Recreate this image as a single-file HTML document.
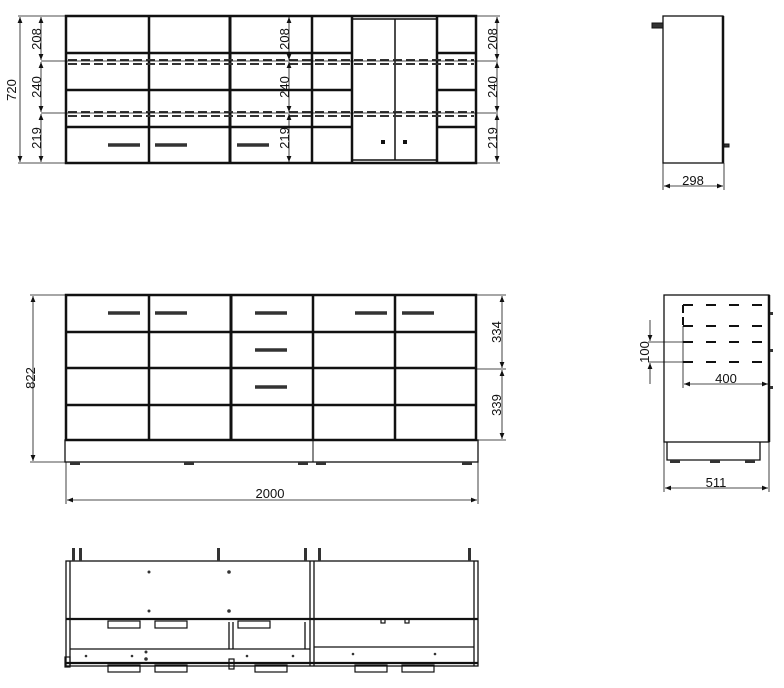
<!DOCTYPE html>
<html><head><meta charset="utf-8"><style>
html,body{margin:0;padding:0;background:#fff;width:784px;height:688px;overflow:hidden}
svg{display:block}
text{font-family:"Liberation Sans","DejaVu Sans",sans-serif;font-size:13px;fill:#111}
</style></head><body>
<svg width="784" height="688" viewBox="0 0 784 688" xmlns="http://www.w3.org/2000/svg">
<defs>
<marker id="a" viewBox="0 0 10 10" refX="10" refY="5" markerUnits="userSpaceOnUse" markerWidth="10" markerHeight="6" orient="auto-start-reverse"><path d="M0,1 L10,5 L0,9 z" fill="#111"/></marker>
</defs>
<g stroke="#111" fill="none">
<!-- TOP ELEVATION -->
<rect x="66" y="16" width="410" height="147" stroke-width="2.5"/>
<g stroke-width="2.5">
<line x1="66" y1="53" x2="352" y2="53"/><line x1="66" y1="90" x2="352" y2="90"/><line x1="66" y1="127" x2="352" y2="127"/>
<line x1="437" y1="53" x2="476" y2="53"/><line x1="437" y1="90" x2="476" y2="90"/><line x1="437" y1="127" x2="476" y2="127"/>
<line x1="149" y1="16" x2="149" y2="163"/><line x1="230" y1="16" x2="230" y2="163" stroke-width="3"/>
<line x1="312" y1="16" x2="312" y2="163"/><line x1="352" y1="16" x2="352" y2="163"/><line x1="437" y1="16" x2="437" y2="163"/>
</g>
<line x1="395" y1="19" x2="395" y2="160" stroke-width="1.5"/>
<line x1="352" y1="19" x2="437" y2="19" stroke-width="1.5"/><line x1="352" y1="160" x2="437" y2="160" stroke-width="1.5"/>
<g stroke-width="2" stroke-dasharray="9,4" stroke="#333">
<line x1="68" y1="60" x2="474" y2="60"/><line x1="68" y1="64" x2="474" y2="64"/>
<line x1="68" y1="112" x2="474" y2="112"/><line x1="68" y1="116" x2="474" y2="116"/>
</g>
<g stroke-width="0.8"><line x1="41" y1="61" x2="498" y2="61"/><line x1="41" y1="113" x2="498" y2="113"/></g>
<g stroke-width="3.5" stroke="#333"><line x1="108" y1="145" x2="140" y2="145"/><line x1="155" y1="145" x2="187" y2="145"/><line x1="237" y1="145" x2="269" y2="145"/></g>
<g fill="#111" stroke="none"><rect x="381" y="140" width="4" height="4"/><rect x="403" y="140" width="4" height="4"/></g>
<g stroke-width="0.8">
<line x1="18" y1="16" x2="66" y2="16"/><line x1="18" y1="163" x2="66" y2="163"/>
<line x1="20" y1="17" x2="20" y2="162" marker-start="url(#a)" marker-end="url(#a)"/>
<line x1="41" y1="17" x2="41" y2="60" marker-start="url(#a)" marker-end="url(#a)"/>
<line x1="41" y1="62" x2="41" y2="112" marker-start="url(#a)" marker-end="url(#a)"/>
<line x1="41" y1="114" x2="41" y2="162" marker-start="url(#a)" marker-end="url(#a)"/>
<line x1="289" y1="17" x2="289" y2="60" marker-start="url(#a)" marker-end="url(#a)"/>
<line x1="289" y1="62" x2="289" y2="112" marker-start="url(#a)" marker-end="url(#a)"/>
<line x1="289" y1="114" x2="289" y2="162" marker-start="url(#a)" marker-end="url(#a)"/>
<line x1="476" y1="16" x2="500" y2="16"/><line x1="476" y1="163" x2="500" y2="163"/>
<line x1="497" y1="17" x2="497" y2="60" marker-start="url(#a)" marker-end="url(#a)"/>
<line x1="497" y1="62" x2="497" y2="112" marker-start="url(#a)" marker-end="url(#a)"/>
<line x1="497" y1="114" x2="497" y2="162" marker-start="url(#a)" marker-end="url(#a)"/>
</g>
<rect x="663" y="16" width="60" height="147" stroke-width="1.3"/>
<line x1="723" y1="16" x2="723" y2="163" stroke-width="2.5"/>
<rect x="652" y="23" width="11" height="5" fill="#333" stroke-width="1"/>
<rect x="724" y="144" width="5" height="3" fill="#333" stroke-width="1"/>
<g stroke-width="0.8"><line x1="663" y1="163" x2="663" y2="190"/><line x1="724" y1="163" x2="724" y2="190"/>
<line x1="664" y1="186" x2="723" y2="186" marker-start="url(#a)" marker-end="url(#a)"/></g>

<!-- FRONT ELEVATION -->
<rect x="66" y="295" width="410" height="145" stroke-width="2.5"/>
<g stroke-width="2.5">
<line x1="66" y1="332" x2="476" y2="332"/><line x1="66" y1="368" x2="476" y2="368"/><line x1="66" y1="405" x2="476" y2="405"/>
<line x1="149" y1="295" x2="149" y2="440"/><line x1="231" y1="295" x2="231" y2="440" stroke-width="3"/>
<line x1="313" y1="295" x2="313" y2="440"/><line x1="395" y1="295" x2="395" y2="440"/>
</g>
<rect x="65" y="440" width="413" height="22" stroke-width="1.3"/>
<line x1="313" y1="440" x2="313" y2="462" stroke-width="1"/>
<g fill="#333" stroke="none"><rect x="70" y="462" width="10" height="3"/><rect x="184" y="462" width="10" height="3"/><rect x="298" y="462" width="10" height="3"/><rect x="316" y="462" width="10" height="3"/><rect x="462" y="462" width="10" height="3"/></g>
<g stroke-width="3.5" stroke="#333">
<line x1="108" y1="313" x2="140" y2="313"/><line x1="155" y1="313" x2="187" y2="313"/><line x1="255" y1="313" x2="287" y2="313"/>
<line x1="355" y1="313" x2="387" y2="313"/><line x1="402" y1="313" x2="434" y2="313"/>
<line x1="255" y1="350" x2="287" y2="350"/><line x1="255" y1="387" x2="287" y2="387"/></g>
<g stroke-width="0.8">
<line x1="30" y1="295" x2="66" y2="295"/><line x1="30" y1="462" x2="66" y2="462"/>
<line x1="33" y1="296" x2="33" y2="461" marker-start="url(#a)" marker-end="url(#a)"/>
<line x1="476" y1="295" x2="506" y2="295"/><line x1="476" y1="369" x2="506" y2="369"/><line x1="476" y1="440" x2="506" y2="440"/>
<line x1="502" y1="296" x2="502" y2="368" marker-start="url(#a)" marker-end="url(#a)"/>
<line x1="502" y1="370" x2="502" y2="439" marker-start="url(#a)" marker-end="url(#a)"/>
<line x1="66" y1="462" x2="66" y2="504"/><line x1="478" y1="462" x2="478" y2="504"/>
<line x1="67" y1="500" x2="477" y2="500" marker-start="url(#a)" marker-end="url(#a)"/>
</g>
<rect x="664" y="295" width="105" height="147" stroke-width="1.3"/>
<line x1="769" y1="295" x2="769" y2="442" stroke-width="2.5"/>
<path d="M667,442 V460 H760 V442" stroke-width="1.3"/>
<g stroke-width="2" stroke-dasharray="10,13">
<line x1="683" y1="305" x2="769" y2="305"/><line x1="683" y1="326" x2="769" y2="326"/>
<line x1="683" y1="342" x2="769" y2="342"/><line x1="683" y1="362" x2="769" y2="362"/>
</g>
<line x1="683" y1="305" x2="683" y2="326" stroke-width="2" stroke-dasharray="8,4"/>
<g stroke-width="0.8">
<line x1="648" y1="342" x2="683" y2="342"/><line x1="648" y1="362" x2="683" y2="362"/>
<line x1="650" y1="320" x2="650" y2="341" marker-end="url(#a)"/><line x1="650" y1="384" x2="650" y2="363" marker-end="url(#a)"/>
<line x1="683" y1="326" x2="683" y2="388"/>
<line x1="684" y1="384" x2="768" y2="384" marker-start="url(#a)" marker-end="url(#a)"/>
<line x1="664" y1="442" x2="664" y2="492"/><line x1="769" y1="442" x2="769" y2="492"/>
<line x1="665" y1="488" x2="768" y2="488" marker-start="url(#a)" marker-end="url(#a)"/>
</g>
<g fill="#333" stroke="none"><rect x="770" y="312" width="3" height="3"/><rect x="770" y="349" width="3" height="3"/><rect x="770" y="386" width="3" height="3"/>
<rect x="670" y="460" width="10" height="3"/><rect x="710" y="460" width="10" height="3"/><rect x="745" y="460" width="10" height="3"/></g>

<!-- BOTTOM PLAN -->
<g stroke-width="1.3">
<rect x="66" y="561" width="412" height="105"/>
<line x1="70" y1="561" x2="70" y2="666"/><line x1="474" y1="561" x2="474" y2="666"/>
<line x1="310" y1="561" x2="310" y2="666"/><line x1="314" y1="561" x2="314" y2="666"/>
<line x1="66" y1="619" x2="478" y2="619" stroke-width="2.2"/>
<line x1="66" y1="663" x2="478" y2="663" stroke-width="2.2"/>
<line x1="70" y1="649" x2="310" y2="649"/><line x1="314" y1="647" x2="474" y2="647"/>
<line x1="229" y1="622" x2="229" y2="649"/><line x1="233" y1="622" x2="233" y2="649"/>
<line x1="305" y1="622" x2="305" y2="649"/>
</g>
<g stroke-width="1.2">
<rect x="108" y="621" width="32" height="7"/><rect x="155" y="621" width="32" height="7"/><rect x="238" y="621" width="32" height="7"/>
<rect x="108" y="665" width="32" height="7"/><rect x="155" y="665" width="32" height="7"/><rect x="255" y="665" width="32" height="7"/>
<rect x="355" y="665" width="32" height="7"/><rect x="402" y="665" width="32" height="7"/>
<rect x="381" y="619" width="4" height="4"/><rect x="405" y="619" width="4" height="4"/>
<rect x="65" y="657" width="5" height="10"/><rect x="229" y="659" width="5" height="10"/>
</g>
<g fill="#333" stroke="none">
<rect x="72" y="548" width="3" height="13"/><rect x="79" y="548" width="3" height="13"/><rect x="217" y="548" width="3" height="13"/>
<rect x="304" y="548" width="3" height="13"/><rect x="318" y="548" width="3" height="13"/><rect x="468" y="548" width="3" height="13"/>
<circle cx="149" cy="572" r="1.5"/><circle cx="229" cy="572" r="1.8"/><circle cx="149" cy="611" r="1.5"/><circle cx="229" cy="611" r="1.8"/>
<circle cx="86" cy="656" r="1.3"/><circle cx="132" cy="656" r="1.3"/><circle cx="146" cy="652" r="1.5"/><circle cx="146" cy="659" r="1.8"/>
<circle cx="247" cy="656" r="1.3"/><circle cx="293" cy="656" r="1.3"/><circle cx="353" cy="654" r="1.3"/><circle cx="435" cy="654" r="1.3"/>
</g>
</g>
<g>
<text transform="translate(16,90) rotate(-90)" text-anchor="middle">720</text>
<text transform="translate(41,39) rotate(-90)" text-anchor="middle">208</text>
<text transform="translate(41,87) rotate(-90)" text-anchor="middle">240</text>
<text transform="translate(41,138) rotate(-90)" text-anchor="middle">219</text>
<text transform="translate(289,39) rotate(-90)" text-anchor="middle">208</text>
<text transform="translate(289,87) rotate(-90)" text-anchor="middle">240</text>
<text transform="translate(289,138) rotate(-90)" text-anchor="middle">219</text>
<text transform="translate(497,39) rotate(-90)" text-anchor="middle">208</text>
<text transform="translate(497,87) rotate(-90)" text-anchor="middle">240</text>
<text transform="translate(497,138) rotate(-90)" text-anchor="middle">219</text>
<text x="693" y="185" text-anchor="middle">298</text>
<text transform="translate(35,378) rotate(-90)" text-anchor="middle">822</text>
<text transform="translate(501,332) rotate(-90)" text-anchor="middle">334</text>
<text transform="translate(501,405) rotate(-90)" text-anchor="middle">339</text>
<text x="270" y="498" text-anchor="middle">2000</text>
<text transform="translate(649,352) rotate(-90)" text-anchor="middle">100</text>
<text x="726" y="383" text-anchor="middle">400</text>
<text x="716" y="487" text-anchor="middle">511</text>
</g>
</svg>
</body></html>
